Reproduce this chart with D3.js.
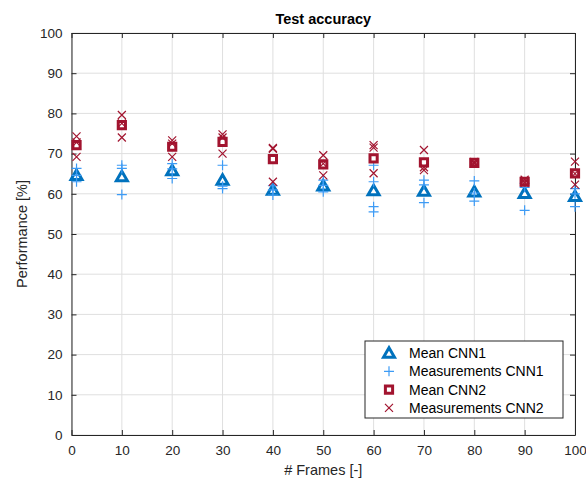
<!DOCTYPE html>
<html>
<head>
<meta charset="utf-8">
<script src="https://cdn.jsdelivr.net/npm/d3@7"></script>
<style>
  body { margin: 0; background: #fff; }
  svg { font-family: "Liberation Sans", Arial, sans-serif; }
  .tick text { fill: #262626; font-size: 13.5px; }
</style>
</head>
<body>
<svg width="586" height="482"></svg>
<script>
// data
var frames = [1, 10, 20, 30, 40, 50, 60, 70, 80, 90, 100];
var meanCNN1 = [64.6, 64.3, 65.8, 63.4, 60.9, 62.0, 60.8, 60.7, 60.5, 60.1, 59.4];
var meanCNN2 = [72.1, 77.1, 71.7, 72.9, 68.6, 67.3, 68.8, 67.8, 67.7, 63.0, 65.1];
var measCNN1 = [
  [66.3, 64.6, 63.0],
  [67.1, 66.3, 59.8],
  [67.5, 66.2, 63.8],
  [67.1, 61.9, 61.3],
  [62.0, 61.0, 59.7],
  [63.4, 62.1, 60.5],
  [67.1, 63.0, 56.8, 55.5],
  [63.4, 62.2, 57.8],
  [63.2, 60.2, 58.2],
  [61.6, 62.6, 55.9],
  [61.3, 60.0, 56.8]
];
var measCNN2 = [
  [74.3, 72.8, 69.2],
  [79.6, 77.5, 74.0],
  [73.3, 72.5, 69.2],
  [74.8, 74.0, 70.0],
  [71.4, 71.2, 63.0],
  [69.6, 67.5, 64.6],
  [72.1, 71.5, 65.1],
  [70.9, 66.6, 65.9],
  [67.9, 67.6, 67.5],
  [63.5, 62.9, 62.7],
  [68.0, 65.0, 62.3]
];
var xTicks = [0, 10, 20, 30, 40, 50, 60, 70, 80, 90, 100];
var yTicks = [0, 10, 20, 30, 40, 50, 60, 70, 80, 90, 100];
var legendLabels = ['Mean CNN1', 'Measurements CNN1', 'Mean CNN2', 'Measurements CNN2'];

var blue = '#0072BD', lightBlue = '#3D9BF5', red = '#A2142F', axisCol = '#262626';

var svg = d3.select('svg');
var x = d3.scaleLinear().domain([0, 100]).range([71.5, 575]);
var y = d3.scaleLinear().domain([0, 100]).range([435, 33]);

// grid
var grid = svg.append('g');
grid.selectAll('.gx').data(xTicks).enter().append('line')
  .attr('x1', d => x(d)).attr('x2', d => x(d))
  .attr('y1', y(0)).attr('y2', y(100))
  .attr('stroke', '#dfdfdf').attr('stroke-width', 1);
grid.selectAll('.gy').data(yTicks).enter().append('line')
  .attr('x1', x(0)).attr('x2', x(100))
  .attr('y1', d => y(d)).attr('y2', d => y(d))
  .attr('stroke', '#dfdfdf').attr('stroke-width', 1);

// axes (ticks pointing inward, box on)
function styleAxis(g) {
  g.select('.domain').attr('stroke', axisCol);
  g.selectAll('.tick line').attr('stroke', axisCol);
}
svg.append('g').attr('transform', 'translate(0,' + y(0) + ')')
  .call(d3.axisBottom(x).tickValues(xTicks).tickSizeInner(-5).tickSizeOuter(0).tickPadding(10))
  .call(styleAxis);
svg.append('g').attr('transform', 'translate(0,' + y(100) + ')')
  .call(d3.axisTop(x).tickValues(xTicks).tickSizeInner(-5).tickSizeOuter(0).tickFormat(''))
  .call(styleAxis);
svg.append('g').attr('transform', 'translate(' + x(0) + ',0)')
  .call(d3.axisLeft(y).tickValues(yTicks).tickSizeInner(-5).tickSizeOuter(0).tickPadding(9))
  .call(styleAxis);
svg.append('g').attr('transform', 'translate(' + x(100) + ',0)')
  .call(d3.axisRight(y).tickValues(yTicks).tickSizeInner(-5).tickSizeOuter(0).tickFormat(''))
  .call(styleAxis);

// markers
var triPath = d3.symbol().type(d3.symbolTriangle).size(52)();
var sqPath = d3.symbol().type(d3.symbolSquare).size(52)();
var crossPath = 'M-4,-4L4,4M-4,4L4,-4';
var plusPath = 'M-5,0L5,0M0,-5L0,5';

function flat(meas) {
  var out = [];
  meas.forEach((vals, i) => vals.forEach(v => out.push([frames[i], v])));
  return out;
}

var plot = svg.append('g');
plot.selectAll('.m1').data(frames).enter().append('path')
  .attr('d', triPath)
  .attr('transform', (d, i) => 'translate(' + x(d) + ',' + (y(meanCNN1[i]) + 1) + ')')
  .attr('fill', '#fff').attr('stroke', blue).attr('stroke-width', 3);
plot.selectAll('.p1').data(flat(measCNN1)).enter().append('path')
  .attr('d', plusPath)
  .attr('transform', d => 'translate(' + x(d[0]) + ',' + y(d[1]) + ')')
  .attr('fill', 'none').attr('stroke', lightBlue).attr('stroke-width', 1.2);
plot.selectAll('.m2').data(frames).enter().append('path')
  .attr('d', sqPath)
  .attr('transform', (d, i) => 'translate(' + x(d) + ',' + y(meanCNN2[i]) + ')')
  .attr('fill', '#fff').attr('stroke', red).attr('stroke-width', 3);
plot.selectAll('.c2').data(flat(measCNN2)).enter().append('path')
  .attr('d', crossPath)
  .attr('transform', d => 'translate(' + x(d[0]) + ',' + y(d[1]) + ')')
  .attr('fill', 'none').attr('stroke', red).attr('stroke-width', 1.2);

// title and labels
svg.append('text').attr('x', (x(0) + x(100)) / 2).attr('y', 24)
  .attr('text-anchor', 'middle').attr('font-weight', 'bold').attr('font-size', 14.5)
  .attr('fill', '#000').text('Test accuracy');
svg.append('text').attr('x', (x(0) + x(100)) / 2).attr('y', 475)
  .attr('text-anchor', 'middle').attr('font-size', 14.5).attr('fill', axisCol)
  .text('# Frames [-]');
svg.append('text').attr('transform', 'translate(27,' + ((y(0) + y(100)) / 2) + ') rotate(-90)')
  .attr('text-anchor', 'middle').attr('font-size', 14.5).attr('fill', axisCol)
  .text('Performance [%]');

// legend
var lg = svg.append('g').attr('transform', 'translate(365,341)');
lg.append('rect').attr('width', 198).attr('height', 77)
  .attr('fill', '#fff').attr('stroke', axisCol).attr('stroke-width', 1);
var legendShapes = [
  { d: triPath, fill: '#fff', stroke: blue, sw: 3, dy: 1 },
  { d: plusPath, fill: 'none', stroke: lightBlue, sw: 1.2, dy: 0 },
  { d: sqPath, fill: '#fff', stroke: red, sw: 3, dy: 0 },
  { d: crossPath, fill: 'none', stroke: red, sw: 1.2, dy: 0 }
];
var rows = lg.selectAll('.row').data(legendLabels).enter().append('g')
  .attr('transform', (d, i) => 'translate(0,' + (12 + i * 18.3) + ')');
rows.append('path')
  .attr('d', (d, i) => legendShapes[i].d)
  .attr('transform', (d, i) => 'translate(24,' + legendShapes[i].dy + ')')
  .attr('fill', (d, i) => legendShapes[i].fill)
  .attr('stroke', (d, i) => legendShapes[i].stroke)
  .attr('stroke-width', (d, i) => legendShapes[i].sw);
rows.append('text').attr('x', 44).attr('dy', '0.35em')
  .attr('font-size', 14).attr('fill', '#000').text(d => d);
</script>
</body>
</html>
